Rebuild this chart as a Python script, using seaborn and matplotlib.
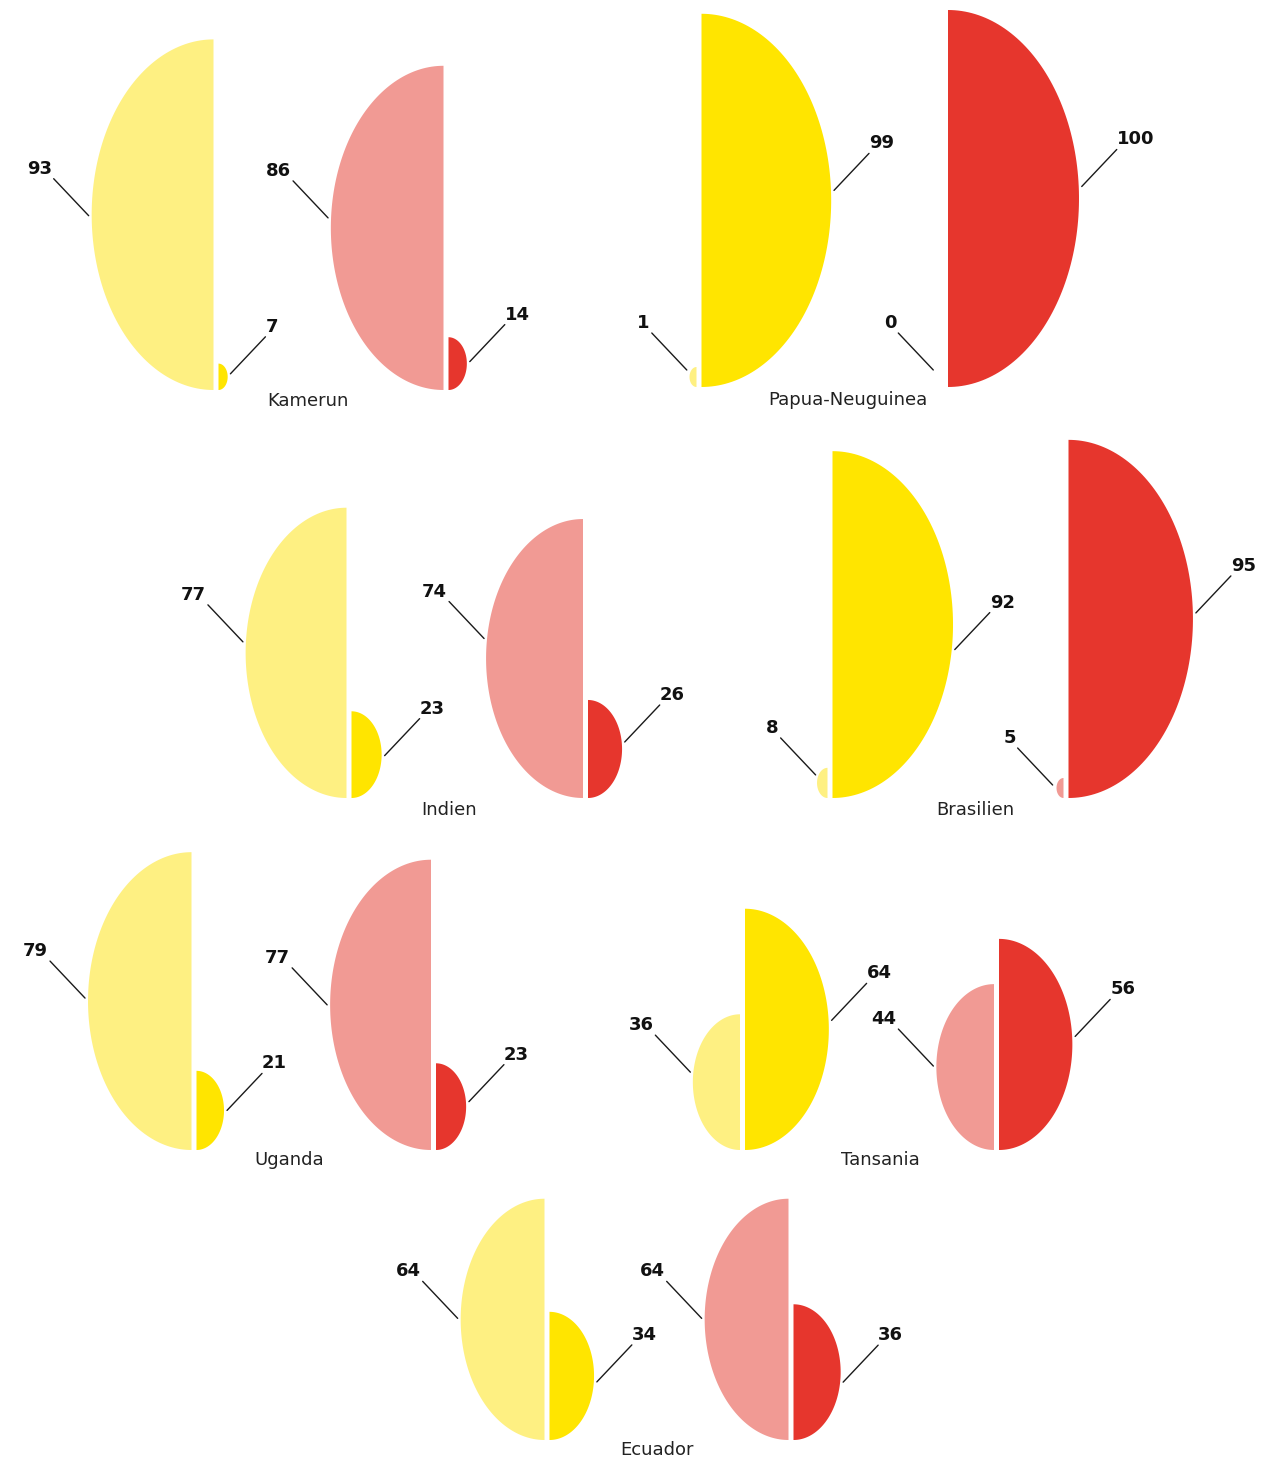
import numpy as np
import matplotlib
matplotlib.use("Agg")
import matplotlib.pyplot as plt
import seaborn as sns

# Data: each country has a yellow pair and a red pair (shares that add up to ~100)
countries = ["Kamerun", "Papua-Neuguinea", "Indien", "Brasilien", "Uganda", "Tansania", "Ecuador"]
yellow_light = [93, 1, 77, 8, 79, 36, 64]
yellow_dark = [7, 99, 23, 92, 21, 64, 34]
red_light = [86, 0, 74, 5, 77, 44, 64]
red_dark = [14, 100, 26, 95, 23, 56, 36]

# Layout (pixel positions of each group)
yellow_x = [216, 699, 349, 830, 194, 742.5, 547]
red_x = [446, 945.5, 585.5, 1066, 433.5, 996.5, 791]
base_y = [390, 387, 798, 798, 1150, 1150, 1440]
label_x = [308, 848, 449, 975, 289, 880, 657]
label_y = [406, 405, 815, 815, 1165, 1165, 1455]

# vertical nudges of the leader lines (hand placed in the original)
yl_nudge = [1, -6, -11, -8, -3, -10, -1]
yd_nudge = [-3, -10, 1, 25, 0, -9, 6]
rl_nudge = [-10, -6, -20, -2, 0, -1, -1]
rd_nudge = [-2, -12, -7, -6, -5, -8, 10]

# Styles
sns.set_theme(style="white")
plt.rcParams["font.family"] = ["DejaVu Sans"]
colors = {
    "yellow": ("#FEF082", "#FFE500"),
    "red": ("#F19A94", "#E6362D"),
}

H_PER_UNIT = 3.77   # px of height per percent
W_PER_UNIT = 1.31   # px of half-width per percent
GAP = 2.5
MIN_H, MIN_W = 20, 7


def size_of(v):
    if v <= 0:
        return 0.0, 0.0
    return max(v * H_PER_UNIT, MIN_H), max(v * W_PER_UNIT, MIN_W)


def half_ellipse(ax, x0, base, v, side, color, nudge=0):
    h, w = size_of(v)
    if h > 0:
        t = np.linspace(-np.pi / 2, np.pi / 2, 120)
        xs = x0 + side * w * np.cos(t)
        ys = base - h / 2 + (h / 2) * np.sin(t)
        ax.fill(np.r_[xs, x0], np.r_[ys, ys[0]], color=color, lw=0)
    # leader line + value label
    ah, aw = max(h, 22), max(w, 8)
    ey = base - ah / 2 + nudge
    # x on the ellipse outline at that height
    r = np.clip((ey - (base - ah / 2)) / (ah / 2), -1, 1)
    ex = x0 + side * (aw * np.sqrt(1 - r ** 2) + 3)
    ox, oy = ex + side * 35, ey - 37
    ax.plot([ex, ox], [ey, oy], color="#1a1a1a", lw=1)
    ax.text(ox - 2 if side < 0 else ox, oy - 5, str(v), ha="right" if side < 0 else "left",
            va="baseline", fontsize=13, fontweight="bold", color="#111111")


fig = plt.figure(figsize=(12.86, 14.6), dpi=100)
ax = fig.add_axes([0, 0, 1, 1])
ax.set_xlim(0, 1286)
ax.set_ylim(1460, 0)
ax.axis("off")

for i, name in enumerate(countries):
    b = base_y[i]
    half_ellipse(ax, yellow_x[i] - GAP, b, yellow_light[i], -1, colors["yellow"][0], yl_nudge[i])
    half_ellipse(ax, yellow_x[i] + GAP, b, yellow_dark[i], 1, colors["yellow"][1], yd_nudge[i])
    half_ellipse(ax, red_x[i] - GAP, b, red_light[i], -1, colors["red"][0], rl_nudge[i])
    half_ellipse(ax, red_x[i] + GAP, b, red_dark[i], 1, colors["red"][1], rd_nudge[i])
    ax.text(label_x[i], label_y[i], name, ha="center", va="baseline",
            fontsize=13, color="#222222")

fig.savefig("out.png", dpi=100)
